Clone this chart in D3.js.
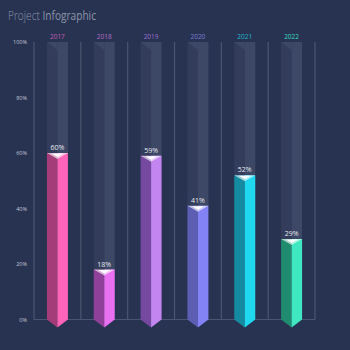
<!DOCTYPE html>
<html><head><meta charset="utf-8">
<script src="https://cdn.jsdelivr.net/npm/d3@7"></script>
<style>html,body{margin:0;padding:0;background:#283351;}svg{display:block;}</style>
</head><body>
<script>
const years = ["2017","2018","2019","2020","2021","2022"];
const values = [60, 18, 59, 41, 52, 29];
const yTicks = [0, 20, 40, 60, 80, 100];
const darkColors = ["#a33c78","#8f4199","#75499f","#5d5eb3","#148ba1","#1f8b6f"];
const lightColors = ["#ff64b8","#e870f1","#c386f0","#8383f6","#20d9f1","#3fe8c1"];
const yearColors = ["#c25cb3","#b36bca","#9b6cd2","#7b7cd9","#22b9d1","#3bd8c0"];

const W = 350, H = 350;
const svg = d3.select("body").append("svg").attr("width", W).attr("height", H);
svg.append("rect").attr("width", W).attr("height", H).attr("fill", "#283351");

const title = svg.append("g").attr("transform", "translate(8,20) scale(0.75,1)")
  .append("text").attr("x", 0).attr("y", 0)
  .attr("font-family", "Open Sans").attr("font-size", 13.5).attr("fill", "#8b93a9");
title.append("tspan").attr("font-weight", 300).text("Project ");
title.append("tspan").attr("font-weight", 400).text("Infographic");

const x = d3.scaleBand().domain(years).range([34, 315]).paddingInner(0).paddingOuter(0);
const y = d3.scaleLinear().domain([0, 100]).range([319.5, 42]);
const bw = 21;

// grid separators
const seps = x.domain().map(d => x(d)).concat([x.range()[1]]);
svg.selectAll("line.sep").data(seps).enter().append("line")
  .attr("x1", d => d).attr("x2", d => d).attr("y1", y(100)).attr("y2", y(0))
  .attr("stroke", "#4b556f").attr("stroke-width", 1.2);
svg.append("line").attr("x1", 34).attr("x2", 315).attr("y1", y(0)).attr("y2", y(0))
  .attr("stroke", "#4b556f").attr("stroke-width", 1.2);

// y axis labels
const yAxis = d3.axisLeft(y).tickValues(yTicks).tickFormat(d => d + "%").tickSize(0).tickPadding(0);
const ya = svg.append("g").attr("transform", "translate(27,0)").call(yAxis);
ya.select(".domain").remove();
ya.selectAll("text").attr("font-family", "Open Sans").attr("font-size", 5.5).attr("fill", "#c3c8d6");

const g = svg.selectAll("g.bar").data(years).enter().append("g").attr("class", "bar");
const cx = d => x(d) + x.bandwidth() / 2;

// tracks
g.append("rect").attr("x", d => cx(d) - bw/2).attr("y", y(100)).attr("width", bw/2)
  .attr("height", (d,i) => y(values[i]) - y(100)).attr("fill", "#333d5b");
g.append("rect").attr("x", d => cx(d)).attr("y", y(100)).attr("width", bw/2)
  .attr("height", (d,i) => y(values[i]) - y(100)).attr("fill", "#3d4766");
g.append("path").attr("d", d => `M${cx(d)-bw/2},${y(100)}L${cx(d)},${y(100)}L${cx(d)},${y(100)+8}Z`)
  .attr("fill", "#3d4766");

// bars
g.append("path").attr("d", (d,i) => `M${cx(d)-bw/2},${y(values[i])}L${cx(d)},${y(values[i])}L${cx(d)},${y(0)+8}L${cx(d)-bw/2},${y(0)}Z`)
  .attr("fill", (d,i) => darkColors[i]);
g.append("path").attr("d", (d,i) => `M${cx(d)},${y(values[i])}L${cx(d)+bw/2},${y(values[i])}L${cx(d)+bw/2},${y(0)}L${cx(d)},${y(0)+8}Z`)
  .attr("fill", (d,i) => lightColors[i]);
// top face
g.append("path").attr("d", (d,i) => `M${cx(d)-bw/2},${y(values[i])}L${cx(d)+bw/2},${y(values[i])}L${cx(d)},${y(values[i])+6}Z`)
  .attr("fill", "#ffffff").attr("opacity", 0.6);
g.append("path").attr("d", (d,i) => `M${cx(d)-6},${y(values[i])+0.5}L${cx(d)+6},${y(values[i])+0.5}L${cx(d)},${y(values[i])+4}Z`)
  .attr("fill", "#ffffff").attr("opacity", 0.9);

// value labels
g.append("text").attr("x", cx).attr("y", (d,i) => y(values[i]) - 3)
  .attr("text-anchor", "middle").attr("font-family", "Open Sans").attr("font-size", 7)
  .attr("fill", "#e6e9f0").text((d,i) => values[i] + "%");

// year labels
g.append("text").attr("x", cx).attr("y", 39)
  .attr("text-anchor", "middle").attr("font-family", "Open Sans").attr("font-size", 6.5)
  .attr("fill", (d,i) => yearColors[i]).text(d => d);
</script>
</body></html>
